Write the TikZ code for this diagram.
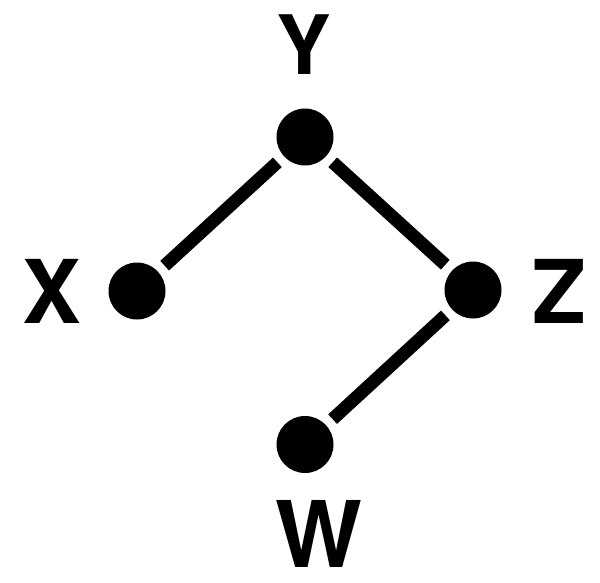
\documentclass[tikz,border=0pt]{standalone}
\usepackage{fontspec}
\setmainfont{TeX Gyre Heros}
\begin{document}
\begin{tikzpicture}[x=1pt, y=-1pt,
	dot/.style={circle, fill=black, minimum size=57pt, inner sep=0pt, outer sep=0pt},
	letter/.style={inner sep=0pt, anchor=base, font=\bfseries\fontsize{#1}{#1}\selectfont},
	link/.style={line width=13pt, shorten <=9pt, shorten >=9pt}]
	\useasboundingbox (0,0) rectangle (600,582);
	\node[dot] (y) at (305,137) {};
	\node[dot] (x) at (137,291) {};
	\node[dot] (z) at (473,290) {};
	\node[dot] (w) at (305,444.5) {};
	\node[letter=82pt] (ylab) at (304,74) {Y};
	\node[letter=88pt] (xlab) at (51.5,323) {X};
	\node[letter=88pt] (zlab) at (559.5,323) {Z};
	\node[letter=92pt] (wlab) at (319,567) {W};
	\draw[link] (y) -- (x);
	\draw[link] (y) -- (z);
	\draw[link] (z) -- (w);
\end{tikzpicture}
\end{document}
